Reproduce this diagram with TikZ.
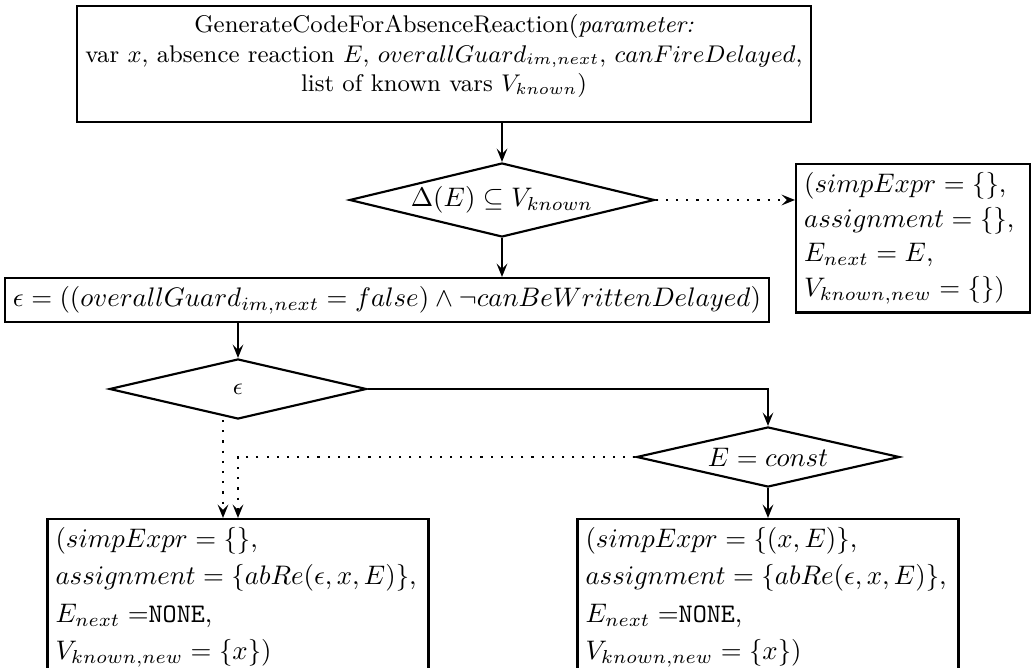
\documentclass[tikz,border=0pt]{standalone}
\usetikzlibrary{shapes.geometric,arrows.meta}
\begin{document}
\begin{tikzpicture}[x=0.373pt,y=-0.373pt,
  box/.style={draw, thick, rectangle, inner sep=3pt},
  decision/.style={draw, thick, diamond, aspect=4, inner sep=0pt},
  flow/.style={thick, -{Stealth[length=5pt,width=4pt,inset=2pt]}},
  dotflow/.style={thick, dash pattern=on 0.8pt off 3pt, -{Stealth[length=5pt,width=4pt,inset=2pt]}},
]
\useasboundingbox (0,0) rectangle (1031,668);

\node[box, minimum width=241.7pt, minimum height=43.3pt, align=center, font=\small] (start) at (444,64)
  {GenerateCodeForAbsenceReaction(\emph{parameter:}\\
   var $x$, absence reaction $E$, $overallGuard_{im,next}$, $canFireDelayed$,\\
   list of known vars $V_{known}$)\\[-3pt]\mbox{}};

\node[decision, minimum width=113.8pt, minimum height=27.6pt] (known) at (502,200)
  {$\Delta(E) \subseteq V_{known}$};

\node[box, anchor=north west, text width=81.3pt, align=left] (keep) at (795,163)
  {$(simpExpr = \{\}$,\\[1pt]
   $assignment = \{\}$,\\[1pt]
   $E_{next} = E$,\\[1pt]
   $V_{known,new} = \{\})$};

\node[box] (eps) at (387,300)
  {$\epsilon = ((overallGuard_{im,next} = false) \land \neg canBeWrittenDelayed)$};

\node[decision, minimum width=95.9pt, minimum height=22.4pt] (test) at (238,389)
  {\small$\epsilon$};

\node[decision, minimum width=98.1pt, minimum height=22.4pt] (const) at (768,457)
  {$E = const$};

\node[box, anchor=north, text width=136.1pt, align=left] (absent) at (238,518)
  {$(simpExpr = \{\}$,\\[2pt]
   $assignment = \{abRe(\epsilon, x, E)\}$,\\[2pt]
   $E_{next} =$\texttt{NONE},\\[2pt]
   $V_{known,new} = \{x\})$\\[30pt]\mbox{}};

\node[box, anchor=north, text width=136.1pt, align=left] (constbox) at (768,518)
  {$(simpExpr = \{(x, E)\}$,\\[2pt]
   $assignment = \{abRe(\epsilon, x, E)\}$,\\[2pt]
   $E_{next} =$\texttt{NONE},\\[2pt]
   $V_{known,new} = \{x\})$\\[30pt]\mbox{}};

% connectors
\draw[flow] (start.south -| known.north) -- (known.north);
\draw[dotflow] (known.east) -- (keep.west |- known.east);
\draw[flow] (known.south) -- (eps.north -| known.south);
\draw[flow] (eps.south -| test.north) -- (test.north);
\coordinate (corner) at (const.north |- test.east);
\draw[flow] (test.east) -- (corner) -- (const.north);
\draw[flow] (const.south) -- (constbox.north -| const.south);
\coordinate (leftdrop) at ([xshift=-15*0.373pt]test.south);
\draw[dotflow] (leftdrop) -- (leftdrop |- absent.north);
\coordinate (bend) at (absent.north |- const.west);
\draw[dotflow] (const.west) -- (bend) -- (absent.north);
\end{tikzpicture}
\end{document}
